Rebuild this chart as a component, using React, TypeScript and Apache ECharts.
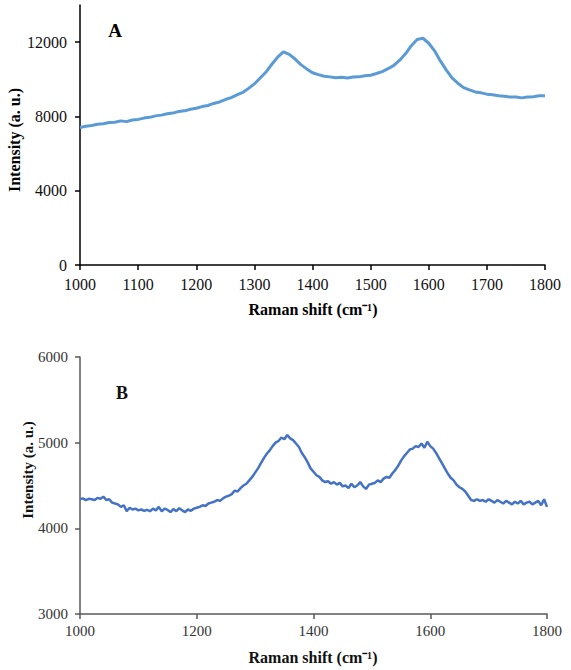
import React, { useEffect, useRef } from "react";
import * as echarts from "echarts";

// Raman spectrum A: shift (cm-1) sampled every 10 cm-1
const shiftA: number[] = [];
for (let s = 1000; s <= 1800; s += 10) shiftA.push(s);
const intensityA = [
  7400, 7470, 7510, 7580, 7610, 7670, 7690, 7760, 7720, 7810,
  7840, 7910, 7950, 8030, 8070, 8140, 8180, 8270, 8300, 8390,
  8440, 8530, 8590, 8700, 8780, 8910, 9010, 9160, 9290, 9510,
  9750, 10070, 10390, 10810, 11190, 11470, 11340, 11090, 10790, 10560,
  10350, 10250, 10160, 10130, 10080, 10110, 10070, 10120, 10130, 10190,
  10220, 10310, 10410, 10570, 10750, 11030, 11370, 11810, 12140, 12210,
  11940, 11530, 10990, 10510, 10070, 9790, 9550, 9430, 9320, 9270,
  9200, 9170, 9110, 9090, 9040, 9050, 9000, 9050, 9060, 9110,
  9120,
];

// Raman spectrum B: shift (cm-1) sampled every 5 cm-1
const shiftB: number[] = [];
for (let s = 1000; s <= 1800; s += 5) shiftB.push(s);
const intensityB = [
  4340, 4350, 4330, 4345, 4340, 4330, 4355, 4345, 4370, 4330,
  4340, 4300, 4290, 4280, 4250, 4270, 4200, 4240, 4220, 4230,
  4210, 4220, 4205, 4215, 4200, 4230, 4210, 4250, 4200, 4230,
  4215, 4190, 4225, 4200, 4235, 4210, 4190, 4220, 4205, 4230,
  4240, 4250, 4270, 4260, 4290, 4300, 4310, 4330, 4320, 4350,
  4370, 4380, 4400, 4440, 4430, 4470, 4500, 4520, 4560, 4600,
  4650, 4700, 4760, 4820, 4870, 4910, 4960, 5000, 5020, 5060,
  5040, 5090, 5050, 5030, 4990, 4950, 4880, 4830, 4770, 4700,
  4660, 4620, 4600, 4560, 4540, 4550, 4520, 4540, 4510, 4530,
  4490, 4500, 4470, 4520, 4480, 4500, 4540, 4490, 4460, 4510,
  4520, 4530, 4560, 4540, 4580, 4600, 4590, 4640, 4680, 4730,
  4790, 4840, 4880, 4920, 4930, 4960, 4950, 4990, 4940, 5010,
  4960, 4930, 4880, 4820, 4760, 4700, 4640, 4590, 4560, 4510,
  4480, 4460, 4430, 4380, 4330, 4320, 4340, 4320, 4330, 4310,
  4340, 4320, 4300, 4330, 4310, 4290, 4320, 4300, 4280, 4310,
  4290, 4320, 4280, 4300, 4310, 4280, 4300, 4320, 4270, 4340,
  4250,
];

const ticksYA = [0, 4000, 8000, 12000];
const ticksYB = [3000, 4000, 5000, 6000];

const SERIF = "Liberation Serif";

const plain = (v: number) => String(v);

export default function App() {
  const ref = useRef<HTMLDivElement>(null);

  useEffect(() => {
    if (!ref.current) return;
    const chart = echarts.init(ref.current, undefined, { renderer: "svg" });

    const axisCommon = (color: string, labelColor: string, size: number, margin: number) => ({
      axisLine: { show: true, lineStyle: { color, width: 1.5 } },
      axisTick: { show: true, inside: false, length: 5, lineStyle: { color, width: 1.5 } },
      splitLine: { show: false },
      axisLabel: {
        color: labelColor,
        fontFamily: SERIF,
        fontSize: size,
        margin,
        formatter: plain,
      },
    });

    const title = (
      text: string,
      x: number,
      y: number,
      size: number,
      color: string,
      rotate = false
    ) => ({
      type: "text",
      x,
      y,
      rotation: rotate ? Math.PI / 2 : 0,
      style: {
        text,
        fill: color,
        fontFamily: SERIF,
        fontSize: size,
        fontWeight: "bold",
        align: "center",
        verticalAlign: "middle",
      },
    });

    chart.setOption({
      animation: false,
      grid: [
        { left: 80, right: 26, top: 5, height: 260 },
        { left: 80, right: 24, top: 357, height: 257 },
      ],
      xAxis: [
        {
          gridIndex: 0,
          type: "value",
          min: 1000,
          max: 1800,
          interval: 100,
          ...axisCommon("#000", "#111", 16, 11),
        },
        {
          gridIndex: 1,
          type: "value",
          min: 1000,
          max: 1800,
          interval: 200,
          ...axisCommon("#595959", "#333", 15, 9),
        },
      ],
      yAxis: [
        {
          gridIndex: 0,
          type: "value",
          min: 0,
          max: 14000,
          interval: 4000,
          ...axisCommon("#000", "#111", 16, 13),
          axisTick: {
            show: true,
            length: 5,
            customValues: ticksYA,
            lineStyle: { color: "#000", width: 1.5 },
          },
          axisLabel: {
            color: "#111",
            fontFamily: SERIF,
            fontSize: 16,
            margin: 13,
            customValues: ticksYA,
            formatter: plain,
          },
        },
        {
          gridIndex: 1,
          type: "value",
          min: 3000,
          max: 6000,
          interval: 1000,
          ...axisCommon("#595959", "#333", 15, 12),
          axisTick: {
            show: true,
            length: 5,
            customValues: ticksYB,
            lineStyle: { color: "#595959", width: 1.5 },
          },
          axisLabel: {
            color: "#333",
            fontFamily: SERIF,
            fontSize: 15,
            margin: 12,
            customValues: ticksYB,
            formatter: plain,
          },
        },
      ],
      series: [
        {
          type: "line",
          xAxisIndex: 0,
          yAxisIndex: 0,
          data: shiftA.map((s, i) => [s, intensityA[i]]),
          showSymbol: false,
          lineStyle: { color: "#5b9bd5", width: 3 },
        },
        {
          type: "line",
          xAxisIndex: 1,
          yAxisIndex: 1,
          data: shiftB.map((s, i) => [s, intensityB[i]]),
          showSymbol: false,
          lineStyle: { color: "#4472c4", width: 2.5 },
        },
      ],
      graphic: [
        title("A", 115, 30, 19, "#000"),
        title("B", 122, 393, 18, "#111"),
        title("Raman shift (cm\u207B\u00B9)", 313, 309, 16, "#000"),
        title("Raman shift (cm\u207B\u00B9)", 313, 657, 16, "#111"),
        title("Intensity (a. u.)", 14, 140, 16, "#000", true),
        title("Intensity (a. u.)", 28, 470, 15, "#111", true),
      ],
    });

    return () => chart.dispose();
  }, []);

  return <div ref={ref} style={{ width: 571, height: 670, position: "absolute", left: 0, top: 0 }} />;
}
